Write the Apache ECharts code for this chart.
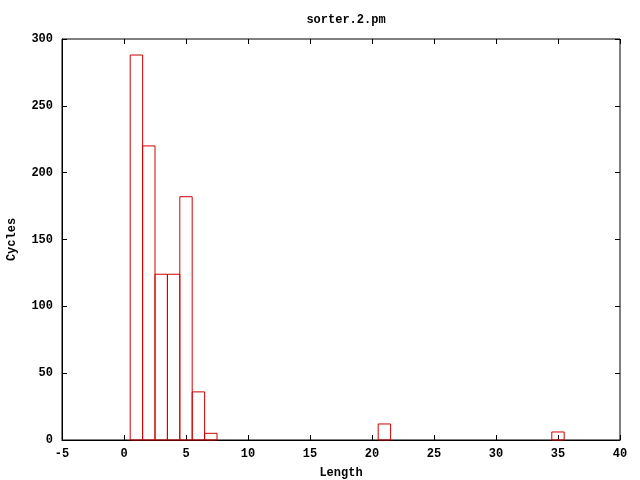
<!DOCTYPE html>
<html>
<head>
<meta charset="utf-8">
<script src="https://cdn.jsdelivr.net/npm/echarts@6/dist/echarts.min.js"></script>
<style>html,body{margin:0;padding:0;background:#fff}#c{width:640px;height:480px}</style>
</head>
<body>
<div id="c"></div>
<script>
const lengths = [1, 2, 3, 4, 5, 6, 7, 21, 35];
const cycles = [288, 220, 124, 124, 182, 36, 5, 12, 6];
const xTicks = [-5, 0, 5, 10, 15, 20, 25, 30, 35, 40];
const yTicks = [0, 50, 100, 150, 200, 250, 300];
const boxWidth = 1;

const font = '"Liberation Mono", "DejaVu Sans Mono", monospace';
const chart = echarts.init(document.getElementById('c'), null, {renderer: 'canvas'});
const data = lengths.map((l, i) => [l, cycles[i]]);
const tickStyle = {show: true, inside: true, length: 5, lineStyle: {color: '#000', width: 1}};
chart.setOption({
  animation: false,
  backgroundColor: '#fff',
  title: {
    text: 'sorter.2.pm', left: 341, top: 9, textAlign: 'center',
    textStyle: {fontFamily: font, fontSize: 12, fontWeight: 'bold', color: '#000'}
  },
  grid: {left: 62, right: 20, top: 39, bottom: 40, outerBoundsMode: 'none', containLabel: false,
    show: true, borderColor: '#000', borderWidth: 1, backgroundColor: 'transparent'},
  xAxis: [{
    type: 'value', min: xTicks[0], max: xTicks[xTicks.length - 1], interval: 5, position: 'bottom',
    name: 'Length', nameLocation: 'middle', nameGap: 27,
    nameTextStyle: {fontFamily: font, fontSize: 12, fontWeight: 'bold', color: '#000'},
    axisLine: {show: true, onZero: false, lineStyle: {color: '#000'}}, axisTick: tickStyle,
    axisLabel: {fontFamily: font, fontSize: 12, fontWeight: 'bold', color: '#000', margin: 8},
    splitLine: {show: false}
  }, {
    type: 'value', min: xTicks[0], max: xTicks[xTicks.length - 1], interval: 5, position: 'top',
    axisLine: {show: false, onZero: false}, axisTick: tickStyle, axisLabel: {show: false}, splitLine: {show: false}
  }],
  yAxis: [{
    type: 'value', min: yTicks[0], max: yTicks[yTicks.length - 1], interval: 50, position: 'left',
    name: 'Cycles', nameLocation: 'middle', nameGap: 44, nameRotate: 90,
    nameTextStyle: {fontFamily: font, fontSize: 12, fontWeight: 'bold', color: '#000'},
    axisLine: {show: true, onZero: false, lineStyle: {color: '#000'}}, axisTick: tickStyle,
    axisLabel: {fontFamily: font, fontSize: 12, fontWeight: 'bold', color: '#000', margin: 9},
    splitLine: {show: false}
  }, {
    type: 'value', min: yTicks[0], max: yTicks[yTicks.length - 1], interval: 50, position: 'right',
    axisLine: {show: false, onZero: false}, axisTick: tickStyle, axisLabel: {show: false}, splitLine: {show: false}
  }],
  series: [{
    type: 'custom',
    xAxisIndex: 0, yAxisIndex: 0,
    data: data,
    renderItem: function (params, api) {
      const x = api.value(0), y = api.value(1);
      const p0 = api.coord([x - boxWidth / 2, y]);
      const p1 = api.coord([x + boxWidth / 2, 0]);
      return {
        type: 'rect',
        shape: {x: p0[0], y: p0[1], width: p1[0] - p0[0], height: p1[1] - p0[1]},
        style: {fill: 'none', stroke: '#d00000', lineWidth: 1}
      };
    }
  }]
});
</script>
</body>
</html>
